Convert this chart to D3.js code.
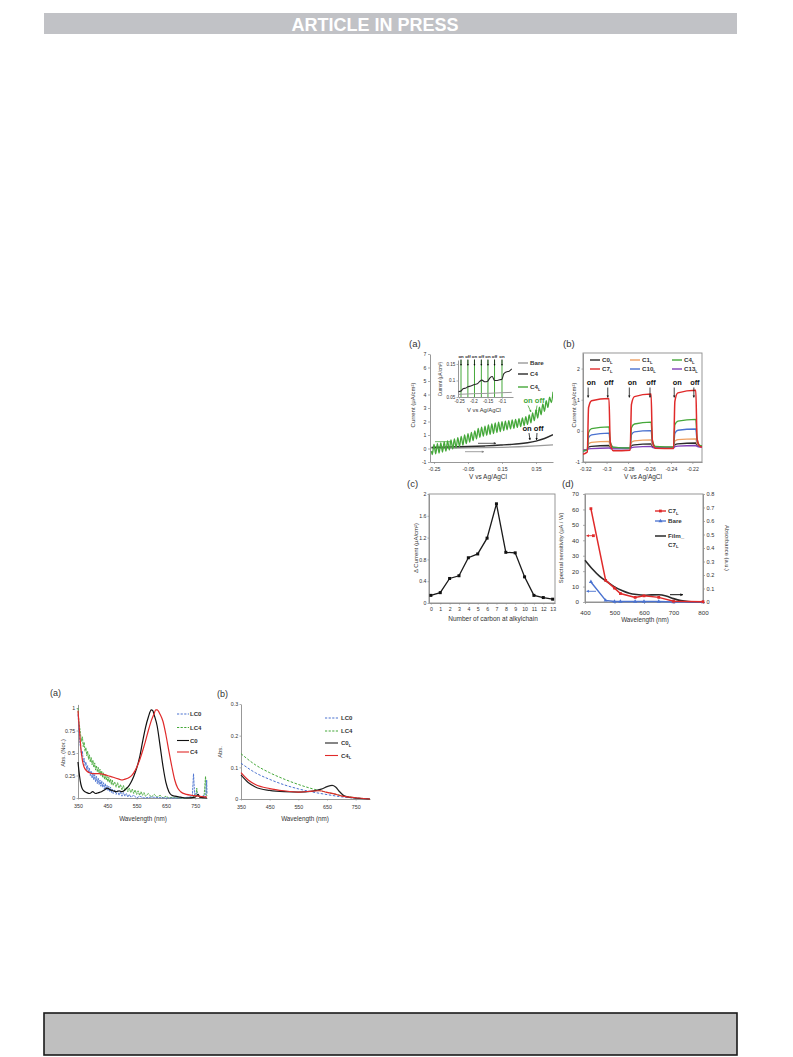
<!DOCTYPE html>
<html><head><meta charset="utf-8">
<script src="https://cdn.jsdelivr.net/npm/d3@7"></script>
<style>
body{margin:0;background:#fff;}
svg{display:block;}
</style></head><body>
<svg id="page" width="793" height="1057"></svg>
<script>
// ---------------- DATA ----------------
// Fig. top-right (a): photocurrent vs potential
const aGreenC4L = [[-0.265,-0.2],[-0.26,-0.45],[-0.25,0.3],[-0.24,-0.4],[-0.23,0.36],[-0.22,-0.34],[-0.21,0.42],[-0.2,-0.27],[-0.19,0.49],[-0.18,-0.2],[-0.17,0.56],[-0.16,-0.12],[-0.15,0.64],[-0.14,-0.04],[-0.13,0.72],[-0.12,0.05],[-0.11,0.8],[-0.1,0.14],[-0.09,0.9],[-0.08,0.25],[-0.07,1.0],[-0.06,0.36],[-0.05,1.1],[-0.04,0.47],[-0.03,1.2],[-0.02,0.58],[-0.01,1.3],[0.0,0.72],[0.01,1.48],[0.02,0.82],[0.03,1.58],[0.04,0.9],[0.05,1.66],[0.06,0.98],[0.07,1.74],[0.08,1.04],[0.09,1.82],[0.1,1.1],[0.11,1.9],[0.12,1.18],[0.13,1.95],[0.14,1.26],[0.15,1.99],[0.16,1.33],[0.17,2.03],[0.18,1.39],[0.19,2.07],[0.2,1.45],[0.21,2.11],[0.22,1.5],[0.23,2.16],[0.24,1.56],[0.25,2.21],[0.26,1.62],[0.27,2.27],[0.28,1.69],[0.29,2.36],[0.3,1.78],[0.31,2.48],[0.32,1.9],[0.33,2.64],[0.34,2.06],[0.35,2.84],[0.36,2.26],[0.37,3.06],[0.38,2.5],[0.39,3.3],[0.4,2.76],[0.41,3.54],[0.42,3.04],[0.43,3.8],[0.44,3.4],[0.45,4.2]];
const aBlackC4 = [[-0.265,0.08],[-0.2,0.1],[-0.15,0.12],[-0.1,0.13],[-0.05,0.15],[0,0.17],[0.05,0.19],[0.1,0.22],[0.15,0.26],[0.2,0.3],[0.25,0.35],[0.3,0.43],[0.35,0.55],[0.4,0.74],[0.45,1.02]];
const aGrayBare = [[-0.265,0.02],[-0.15,0.03],[-0.05,0.04],[0.05,0.06],[0.15,0.09],[0.25,0.13],[0.35,0.19],[0.45,0.27]];
const aXTicks = [-0.25,-0.05,0.15,0.35];
const aYTicks = [-1,0,1,2,3,4,5,6,7];
const aLegend = [["Bare",""],["C4",""],["C4","L"]];
const insetC4 = [[-0.252,0.066],[-0.243,0.068],[-0.236,0.075],[-0.226,0.077],[-0.219,0.081],[-0.209,0.083],[-0.196,0.088],[-0.186,0.09],[-0.178,0.097],[-0.17,0.101],[-0.16,0.096],[-0.15,0.098],[-0.142,0.108],[-0.134,0.112],[-0.126,0.1],[-0.116,0.1],[-0.108,0.102],[-0.1,0.104],[-0.094,0.12],[-0.085,0.126],[-0.075,0.128],[-0.066,0.135]];
const insetBare = [[-0.252,0.058],[-0.2,0.06],[-0.15,0.061],[-0.1,0.063],[-0.066,0.064]];
const insetSwitchV = [-0.243,-0.219,-0.196,-0.172,-0.149,-0.126,-0.1];
const insetSwitchLabels = ["on","off","on","off","on","off","on"];
const insetXTicks = [-0.25,-0.2,-0.15,-0.1];
const insetYTicks = [0.05,0.1,0.15];

// Fig. top-right (b): chopped photocurrent
const bTimes = [-0.322,-0.318,-0.3168,-0.314,-0.2978,-0.2966,-0.2938,-0.278,-0.2768,-0.274,-0.2585,-0.2573,-0.2545,-0.2375,-0.2363,-0.2335,-0.2168,-0.2156,-0.213,-0.211];
const bC0  = [-0.62,-0.6,-0.52,-0.5,-0.47,-0.53,-0.55,-0.55,-0.48,-0.45,-0.42,-0.5,-0.53,-0.52,-0.45,-0.42,-0.39,-0.47,-0.5,-0.5];
const bC1  = [-0.62,-0.6,-0.42,-0.37,-0.34,-0.5,-0.55,-0.55,-0.37,-0.32,-0.29,-0.46,-0.53,-0.52,-0.33,-0.28,-0.26,-0.42,-0.5,-0.5];
const bC4  = [-0.65,-0.6,-0.05,0.07,0.13,-0.35,-0.52,-0.55,0.1,0.22,0.28,-0.3,-0.5,-0.52,0.2,0.31,0.37,-0.25,-0.47,-0.48];
const bC7  = [-0.75,-0.68,0.75,0.97,1.04,-0.35,-0.64,-0.62,0.85,1.1,1.18,-0.3,-0.56,-0.57,0.95,1.22,1.3,-0.25,-0.5,-0.52];
const bC10 = [-0.65,-0.62,-0.22,-0.13,-0.07,-0.4,-0.53,-0.55,-0.12,-0.03,0.01,-0.38,-0.52,-0.53,-0.08,0.02,0.06,-0.33,-0.5,-0.5];
const bC13 = [-0.62,-0.6,-0.58,-0.57,-0.55,-0.57,-0.58,-0.58,-0.54,-0.52,-0.5,-0.53,-0.55,-0.55,-0.51,-0.49,-0.47,-0.5,-0.52,-0.52];
const bNames = ["C0","C1","C4","C7","C10","C13"];
const bXTicks = [-0.32,-0.3,-0.28,-0.26,-0.24,-0.22];
const bYTicks = [-1,0,1,2];
const bSwitchV = [-0.3172,-0.2989,-0.2788,-0.2595,-0.2369,-0.2186];
const bSwitchLabels = ["on","off","on","off","on","off"];

// Fig. top-right (c): delta current vs carbon number
const cCarbon = [0,1,2,3,4,5,6,7,8,9,10,11,12,13];
const cDelta = [0.14,0.19,0.45,0.5,0.83,0.9,1.19,1.82,0.93,0.92,0.48,0.14,0.1,0.07];
const cYTicks = [0,0.4,0.8,1.2,1.6,2];

// Fig. top-right (d): spectral sensitivity
const dWave = [420,470,500,520,570,600,650,700,800];
const dC7L = [60.5,14,9,5.5,3,4,3,0.5,0.2];
const dBare = [13,1,0.3,0.3,0.3,0.3,0.3,0,0];
const dFilmWave = [400,425,450,475,500,525,550,575,600,625,650,675,700,725,750,800];
const dFilmAbs = [0.31,0.245,0.19,0.15,0.112,0.085,0.065,0.055,0.05,0.053,0.054,0.045,0.025,0.01,0.003,0];
const dXTicks = [400,500,600,700,800];
const dYLTicks = [0,10,20,30,40,50,60,70];
const dYRTicks = [0,0.1,0.2,0.3,0.4,0.5,0.6,0.7,0.8];

// Fig. bottom (a): normalised absorbance in solution
const pLC0 = [[350,0.93],[353,0.78],[356,0.62],[359,0.55],[362,0.47],[365,0.52],[368,0.4],[371,0.44],[374,0.36],[377,0.4],[380,0.31],[383,0.36],[386,0.28],[389,0.33],[392,0.25],[395,0.3],[398,0.22],[401,0.28],[404,0.2],[407,0.26],[410,0.18],[413,0.24],[416,0.16],[419,0.22],[422,0.15],[425,0.2],[428,0.13],[431,0.19],[434,0.12],[437,0.17],[440,0.1],[443,0.16],[446,0.09],[449,0.14],[452,0.08],[455,0.13],[458,0.07],[461,0.12],[464,0.06],[467,0.1],[470,0.05],[475,0.09],[480,0.04],[485,0.08],[490,0.03],[495,0.07],[500,0.02],[505,0.06],[510,0.02],[515,0.05],[520,0.01],[525,0.04],[530,0.01],[540,0.03],[550,0],[560,0.02],[575,0],[600,0.01],[650,0],[700,0],[730,0.01],[740,0.02],[744,0.27],[748,0.03],[755,0.06],[760,0.02],[770,0.01],[780,0.03],[785,0.01],[789,0.2],[790,0.05]];
const pLC4 = [[350,1.0],[353,0.85],[356,0.78],[359,0.7],[362,0.63],[365,0.68],[368,0.57],[371,0.62],[374,0.52],[377,0.56],[380,0.47],[383,0.52],[386,0.43],[389,0.48],[392,0.4],[395,0.45],[398,0.37],[401,0.42],[404,0.34],[407,0.39],[410,0.31],[413,0.36],[416,0.29],[419,0.34],[422,0.27],[425,0.32],[428,0.25],[431,0.3],[434,0.23],[437,0.28],[440,0.21],[443,0.26],[446,0.2],[449,0.24],[452,0.18],[455,0.23],[458,0.17],[461,0.21],[464,0.15],[467,0.2],[470,0.14],[475,0.18],[480,0.12],[485,0.17],[490,0.11],[495,0.15],[500,0.09],[505,0.14],[510,0.08],[515,0.12],[520,0.07],[525,0.11],[530,0.06],[535,0.1],[540,0.05],[545,0.09],[550,0.04],[555,0.08],[560,0.03],[565,0.07],[570,0.03],[575,0.06],[580,0.02],[590,0.05],[600,0.01],[610,0.04],[620,0.01],[630,0.03],[640,0],[650,0.02],[660,0],[675,0.01],[690,0],[720,0],[740,0.01],[752,0.03],[755,0.11],[758,0.02],[770,0.01],[780,0.02],[785,0.24],[788,0.04],[790,0.02]];
const pC0 = [[350,0.4],[355,0.25],[360,0.15],[365,0.1],[370,0.08],[380,0.06],[390,0.05],[400,0.07],[410,0.05],[420,0.06],[430,0.07],[440,0.09],[450,0.11],[460,0.09],[470,0.08],[480,0.07],[490,0.08],[500,0.07],[510,0.09],[520,0.12],[530,0.17],[540,0.24],[550,0.33],[560,0.45],[570,0.62],[580,0.78],[590,0.9],[600,0.98],[605,0.97],[610,0.92],[620,0.8],[630,0.58],[640,0.35],[650,0.17],[660,0.07],[670,0.03],[680,0.02],[700,0.01],[720,0],[750,0.01],[760,0.04],[765,0.01],[790,0]];
const pC4 = [[350,0.97],[355,0.75],[360,0.55],[365,0.42],[370,0.35],[380,0.3],[390,0.28],[400,0.27],[420,0.27],[440,0.26],[450,0.25],[460,0.24],[470,0.23],[480,0.22],[490,0.21],[500,0.2],[510,0.21],[520,0.22],[530,0.24],[540,0.28],[550,0.34],[560,0.42],[570,0.52],[580,0.63],[590,0.75],[600,0.86],[610,0.94],[615,0.98],[620,0.98],[630,0.93],[640,0.85],[650,0.7],[660,0.52],[670,0.35],[680,0.2],[690,0.11],[700,0.07],[720,0.04],[740,0.03],[760,0.02],[790,0.01]];
const pXTicks = [350,450,550,650,750];
const pYTicks = [0,0.25,0.5,0.75,1];

// Fig. bottom (b): absorbance of films
const qLC0 = [[350,0.113],[400,0.083],[450,0.062],[500,0.045],[550,0.032],[600,0.022],[650,0.014],[700,0.007],[750,0.003],[800,0]];
const qLC4 = [[350,0.143],[400,0.108],[450,0.083],[500,0.063],[550,0.046],[600,0.032],[650,0.021],[700,0.011],[750,0.004],[800,0]];
const qC0L = [[350,0.076],[375,0.052],[400,0.038],[450,0.027],[500,0.023],[550,0.022],[600,0.025],[630,0.031],[650,0.039],[668,0.043],[680,0.038],[695,0.022],[710,0.01],[740,0.004],[800,0]];
const qC4L = [[350,0.083],[375,0.06],[400,0.046],[450,0.033],[500,0.026],[550,0.022],[600,0.025],[625,0.026],[650,0.021],[675,0.016],[700,0.01],[750,0.004],[800,0]];
const qXTicks = [350,450,550,650,750];
const qYTicks = [0,0.1,0.2,0.3];

// ---------------- DRAWING ----------------
const FONT = "'Liberation Sans', Arial, Helvetica, sans-serif";
const svg = d3.select("#page").attr("font-family", FONT);
const COL = {green:"#45a83a", red:"#e02a2a", blue:"#4a72d0", orange:"#eea062", purple:"#8240b8", black:"#2a2a2a", gray:"#9a9a9a", axis:"#8c8c8c", text:"#333"};
const S = v => String(v);

function txt(g, x, y, s, o = {}) {
  const t = g.append("text").attr("x", x).attr("y", y).attr("font-size", o.fs || 6)
    .attr("fill", o.fill || COL.text).attr("text-anchor", o.anchor || "start")
    .attr("font-weight", o.bold ? "bold" : "normal");
  if (o.rot) t.attr("transform", `rotate(${o.rot},${x},${y})`);
  t.append("tspan").text(s);
  if (o.sub) t.append("tspan").attr("font-size", (o.fs || 6) * 0.68).attr("dy", (o.fs || 6) * 0.3).text(o.sub);
  return t;
}
function styleAxis(a, fs) {
  a.selectAll("path.domain").attr("stroke", COL.axis).attr("stroke-width", 0.9);
  a.selectAll(".tick line").attr("stroke", COL.axis).attr("stroke-width", 0.7);
  a.selectAll(".tick text").attr("font-size", fs).attr("fill", COL.text).attr("font-family", FONT);
}
function axisB(g, sc, y, ticks, fs, pad, ts = 2) {
  const a = g.append("g").attr("transform", `translate(0,${y})`)
    .call(d3.axisBottom(sc).tickValues(ticks).tickFormat(S).tickSize(ts).tickSizeOuter(0).tickPadding(pad));
  styleAxis(a, fs); return a;
}
function axisL(g, sc, x, ticks, fs, pad, ts = 2) {
  const a = g.append("g").attr("transform", `translate(${x},0)`)
    .call(d3.axisLeft(sc).tickValues(ticks).tickFormat(S).tickSize(ts).tickSizeOuter(0).tickPadding(pad));
  styleAxis(a, fs); return a;
}
function axisR(g, sc, x, ticks, fs, pad, ts = 2) {
  const a = g.append("g").attr("transform", `translate(${x},0)`)
    .call(d3.axisRight(sc).tickValues(ticks).tickFormat(S).tickSize(ts).tickSizeOuter(0).tickPadding(pad));
  styleAxis(a, fs); return a;
}
function frame(g, x0, y0, x1, y1) {
  g.append("rect").attr("x", x0).attr("y", y0).attr("width", x1 - x0).attr("height", y1 - y0)
    .attr("fill", "none").attr("stroke", COL.axis).attr("stroke-width", 0.9);
}
function arrow(g, x1, y1, x2, y2, color, w = 0.9, hs = 2.2) {
  g.append("line").attr("x1", x1).attr("y1", y1).attr("x2", x2).attr("y2", y2)
    .attr("stroke", color).attr("stroke-width", w);
  const ang = Math.atan2(y2 - y1, x2 - x1);
  const p = [[x2, y2],
    [x2 - hs * Math.cos(ang) + hs * 0.6 * Math.sin(ang), y2 - hs * Math.sin(ang) - hs * 0.6 * Math.cos(ang)],
    [x2 - hs * Math.cos(ang) - hs * 0.6 * Math.sin(ang), y2 - hs * Math.sin(ang) + hs * 0.6 * Math.cos(ang)]];
  g.append("path").attr("d", "M" + p.map(q => q.join(",")).join("L") + "Z").attr("fill", color);
}
function clip(id, x0, y0, x1, y1) {
  svg.append("clipPath").attr("id", id).append("rect").attr("x", x0).attr("y", y0).attr("width", x1 - x0).attr("height", y1 - y0);
}

// header & footer
svg.append("rect").attr("x", 44).attr("y", 13).attr("width", 693).attr("height", 21).attr("fill", "#c1c2c6");
svg.append("text").attr("x", 375).attr("y", 30.5).attr("text-anchor", "middle").attr("font-size", 18)
  .attr("font-weight", "bold").attr("fill", "#fff").text("ARTICLE IN PRESS");
svg.append("rect").attr("x", 44).attr("y", 1013).attr("width", 693).attr("height", 42)
  .attr("fill", "#bfbfbf").attr("stroke", "#1a1a1a").attr("stroke-width", 1.6);

// ---------- Panel (a) top ----------
{
  const g = svg.append("g");
  const x = d3.scaleLinear().domain([-0.2735, 0.45]).range([430, 553]);
  const y = d3.scaleLinear().domain([-1, 7]).range([462, 354]);
  txt(g, 409, 347, "(a)", {fs: 9.5});
  axisL(g, y, 430, aYTicks, 5.2, 1.5, 2);
  axisB(g, x, 462, aXTicks, 5.2, 3.5, 2);
  txt(g, 488, 479, "V vs Ag/AgCl", {fs: 6.5, anchor: "middle"});
  txt(g, 415, 405, "Current (μA/cm²)", {fs: 6, anchor: "middle", rot: -90});
  clip("clipA", 430, 350, 553, 462);
  const line = d3.line().x(d => x(d[0])).y(d => y(d[1]));
  const pg = g.append("g").attr("clip-path", "url(#clipA)");
  pg.append("path").attr("d", line.curve(d3.curveMonotoneX)(aGrayBare)).attr("fill", "none").attr("stroke", COL.gray).attr("stroke-width", 1.3);
  pg.append("path").attr("d", line.curve(d3.curveMonotoneX)(aBlackC4)).attr("fill", "none").attr("stroke", COL.black).attr("stroke-width", 1.4);
  pg.append("path").attr("d", line.curve(d3.curveCatmullRom)(aGreenC4L)).attr("fill", "none").attr("stroke", COL.green).attr("stroke-width", 1.3);
  // legend
  const lc = [COL.gray, COL.black, COL.green];
  [363, 374, 387].forEach((ly, i) => {
    g.append("line").attr("x1", 518).attr("x2", 528).attr("y1", ly).attr("y2", ly).attr("stroke", lc[i]).attr("stroke-width", 1.4);
    txt(g, 530, ly + 2, aLegend[i][0], {fs: 6.2, bold: true, sub: aLegend[i][1]});
  });
  // annotations
  txt(g, 534, 403, "on off", {fs: 7.6, bold: true, fill: COL.green, anchor: "middle"});
  arrow(g, 528, 405.5, 531, 412, COL.green, 0.8, 2);
  arrow(g, 537, 405.5, 536, 412, COL.green, 0.8, 2);
  txt(g, 533, 430.5, "on off", {fs: 7.6, bold: true, fill: "#111", anchor: "middle"});
  arrow(g, 529, 433, 530, 440, "#111", 0.8, 2);
  arrow(g, 537, 433, 536.5, 440, "#111", 0.8, 2);
  arrow(g, 478, 443.3, 496, 443.3, "#333", 0.8, 2.2);
  arrow(g, 465, 451.7, 484, 451.7, "#888", 0.8, 2.2);
  arrow(g, 435, 441.7, 452, 441.7, COL.green, 0.8, 2.2);

  // inset
  const ix = d3.scaleLinear().domain([-0.2535, -0.0616]).range([458, 513]);
  const iy = d3.scaleLinear().domain([0.05, 0.162]).range([397, 360]);
  const ig = g.append("g");
  insetSwitchV.forEach((v, i) => {
    ig.append("line").attr("x1", ix(v)).attr("x2", ix(v)).attr("y1", 360).attr("y2", 397).attr("stroke", COL.green).attr("stroke-width", 1.0);
    txt(ig, ix(v), 358.3, insetSwitchLabels[i], {fs: 4.3, bold: true, anchor: "middle", fill: "#222"});
    arrow(ig, ix(v), 359.3, ix(v), 365.5, "#111", 0.7, 1.6);
  });
  axisL(ig, iy, 458, insetYTicks, 4.5, 1.2, 1.5);
  axisB(ig, ix, 397, insetXTicks, 4.5, 1, 1.5);
  txt(ig, 484, 412, "V vs Ag/AgCl", {fs: 5.8, anchor: "middle"});
  txt(ig, 441.5, 379, "Current (μA/cm²)", {fs: 4.6, anchor: "middle", rot: -90});
  const il = d3.line().x(d => ix(d[0])).y(d => iy(d[1])).curve(d3.curveMonotoneX);
  ig.append("path").attr("d", il(insetBare)).attr("fill", "none").attr("stroke", COL.gray).attr("stroke-width", 1.0);
  ig.append("path").attr("d", il(insetC4)).attr("fill", "none").attr("stroke", COL.black).attr("stroke-width", 1.1);
}

// ---------- Panel (b) top ----------
{
  const g = svg.append("g");
  const x = d3.scaleLinear().domain([-0.322, -0.211]).range([583, 702]);
  const y = d3.scaleLinear().domain([-1, 2.5]).range([462, 353]);
  txt(g, 563, 347, "(b)", {fs: 9.5});
  frame(g, 583, 353, 702, 462);
  axisL(g, y, 583, bYTicks, 5.2, 1.5, 1.5);
  axisB(g, x, 462, bXTicks, 5.2, 3.5, 2);
  txt(g, 643, 479, "V vs Ag/AgCl", {fs: 6.5, anchor: "middle"});
  txt(g, 576, 405, "Current (μA/cm²)", {fs: 6, anchor: "middle", rot: -90});
  clip("clipB", 583, 353, 702, 462);
  const series = [bC0, bC1, bC13, bC10, bC4, bC7];
  const colors = [COL.black, COL.orange, COL.purple, COL.blue, COL.green, COL.red];
  const line = d3.line().x((d, i) => x(bTimes[i])).y(d => y(d)).curve(d3.curveMonotoneX);
  const pg = g.append("g").attr("clip-path", "url(#clipB)");
  series.forEach((s, i) => pg.append("path").attr("d", line(s)).attr("fill", "none").attr("stroke", colors[i]).attr("stroke-width", i === 5 ? 1.5 : 1.3));
  // legend
  const legCols = [COL.black, COL.orange, COL.green, COL.red, COL.blue, COL.purple];
  const lx = [590, 630, 672];
  bNames.forEach((n, i) => {
    const r = Math.floor(i / 3), c = i % 3, ly = 360 + r * 9;
    g.append("line").attr("x1", lx[c]).attr("x2", lx[c] + 10).attr("y1", ly).attr("y2", ly).attr("stroke", legCols[i]).attr("stroke-width", 1.4);
    txt(g, lx[c] + 12, ly + 2, n, {fs: 6.2, bold: true, sub: "L"});
  });
  bSwitchV.forEach((v, i) => {
    txt(g, x(v) + (i % 2 ? 1 : 3), 384.5, bSwitchLabels[i], {fs: 7.4, bold: true, anchor: "middle", fill: "#111"});
    arrow(g, x(v), 387.5, x(v), 397.5, "#111", 0.8, 2);
  });
}

// ---------- Panel (c) top ----------
{
  const g = svg.append("g");
  const x = d3.scaleLinear().domain([-0.2, 13.25]).range([429, 555]);
  const y = d3.scaleLinear().domain([0, 2]).range([603, 494]);
  txt(g, 407, 487, "(c)", {fs: 9.5});
  frame(g, 429, 494, 555, 603);
  axisL(g, y, 429, cYTicks, 5.2, 1, 1.5);
  axisB(g, x, 603, cCarbon, 5.2, 2.5, 1.5);
  txt(g, 493, 621, "Number of carbon at alkylchain", {fs: 6.5, anchor: "middle"});
  txt(g, 418, 548, "Δ Current (μA/cm²)", {fs: 6, anchor: "middle", rot: -90});
  const line = d3.line().x((d, i) => x(cCarbon[i])).y(d => y(d));
  g.append("path").attr("d", line(cDelta)).attr("fill", "none").attr("stroke", "#1a1a1a").attr("stroke-width", 1.3);
  g.selectAll(null).data(cDelta).enter().append("rect")
    .attr("x", (d, i) => x(cCarbon[i]) - 1.5).attr("y", d => y(d) - 1.5).attr("width", 3).attr("height", 3).attr("fill", "#111");
}

// ---------- Panel (d) top ----------
{
  const g = svg.append("g");
  const x = d3.scaleLinear().domain([400, 800]).range([585, 703]);
  const yl = d3.scaleLinear().domain([0, 70]).range([602, 494]);
  const yr = d3.scaleLinear().domain([0, 0.8]).range([602, 494]);
  txt(g, 562, 487, "(d)", {fs: 9.5});
  frame(g, 585, 494, 703, 602);
  axisL(g, yl, 585, dYLTicks, 6.2, 4, 2);
  axisR(g, yr, 703, dYRTicks, 5.6, 1.5, 2);
  axisB(g, x, 602, dXTicks, 6.2, 7, 2);
  txt(g, 645, 622, "Wavelength (nm)", {fs: 6.3, anchor: "middle"});
  txt(g, 563, 548, "Spectral sensitivity (μA / W)", {fs: 5.8, anchor: "middle", rot: -90});
  txt(g, 725, 548, "Absorbance (a.u.)", {fs: 5.8, anchor: "middle", rot: 90});
  const lineL = d3.line().x((d, i) => x(dWave[i])).y(d => yl(d));
  const lineF = d3.line().x((d, i) => x(dFilmWave[i])).y(d => yr(d)).curve(d3.curveMonotoneX);
  g.append("path").attr("d", lineF(dFilmAbs)).attr("fill", "none").attr("stroke", COL.black).attr("stroke-width", 1.6);
  g.append("path").attr("d", lineL(dBare)).attr("fill", "none").attr("stroke", COL.blue).attr("stroke-width", 1.4);
  g.append("path").attr("d", lineL(dC7L)).attr("fill", "none").attr("stroke", COL.red).attr("stroke-width", 1.5);
  const tri = d3.symbol().type(d3.symbolTriangle).size(7);
  g.selectAll(null).data(dBare).enter().append("path").attr("d", tri)
    .attr("transform", (d, i) => `translate(${x(dWave[i])},${yl(d)})`).attr("fill", COL.blue);
  g.selectAll(null).data(dC7L).enter().append("rect")
    .attr("x", (d, i) => x(dWave[i]) - 1.4).attr("y", d => yl(d) - 1.4).attr("width", 2.8).attr("height", 2.8).attr("fill", COL.red);
  // legend
  g.append("line").attr("x1", 655).attr("x2", 666).attr("y1", 511).attr("y2", 511).attr("stroke", COL.red).attr("stroke-width", 1.4);
  g.append("rect").attr("x", 659).attr("y", 509.6).attr("width", 2.8).attr("height", 2.8).attr("fill", COL.red);
  txt(g, 668, 513, "C7", {fs: 6.2, bold: true, sub: "L"});
  g.append("line").attr("x1", 655).attr("x2", 666).attr("y1", 521).attr("y2", 521).attr("stroke", COL.blue).attr("stroke-width", 1.3);
  g.append("path").attr("d", tri).attr("transform", "translate(660.5,521)").attr("fill", COL.blue);
  txt(g, 668, 523, "Bare", {fs: 6.2, bold: true});
  g.append("line").attr("x1", 655).attr("x2", 666).attr("y1", 536).attr("y2", 536).attr("stroke", COL.black).attr("stroke-width", 1.5);
  txt(g, 668, 538, "Film_", {fs: 6.2, bold: true});
  txt(g, 668, 546.5, "C7", {fs: 6.2, bold: true, sub: "L"});
  // arrows
  arrow(g, 594, 535.7, 586.5, 535.7, COL.red, 0.9, 2.4);
  g.append("rect").attr("x", 592).attr("y", 534.3).attr("width", 2.8).attr("height", 2.8).attr("fill", COL.red);
  arrow(g, 596, 591.3, 586.5, 591.3, COL.blue, 0.9, 2.4);
  arrow(g, 670, 594.7, 683, 594.7, "#111", 1.0, 2.6);
}

// ---------- Bottom (a) ----------
{
  const g = svg.append("g");
  const x = d3.scaleLinear().domain([350, 790]).range([78, 207]);
  const y = d3.scaleLinear().domain([0, 1.04]).range([798, 704.4]);
  txt(g, 50, 695.5, "(a)", {fs: 9});
  axisL(g, y, 78, pYTicks, 5.3, 1.3, 1.5);
  axisB(g, x, 798, pXTicks, 5.3, 4.3, 1.5);
  txt(g, 143, 821, "Wavelength (nm)", {fs: 6.3, anchor: "middle"});
  txt(g, 64.5, 753, "Abs. (Nor.)", {fs: 5.8, anchor: "middle", rot: -90});
  const line = d3.line().x(d => x(d[0])).y(d => y(d[1]));
  g.append("path").attr("d", line(pLC4)).attr("fill", "none").attr("stroke", COL.green).attr("stroke-width", 0.9).attr("stroke-dasharray", "2.5,0.8");
  g.append("path").attr("d", line(pLC0)).attr("fill", "none").attr("stroke", COL.blue).attr("stroke-width", 0.9).attr("stroke-dasharray", "2.5,0.8");
  const sm = d3.line().x(d => x(d[0])).y(d => y(d[1])).curve(d3.curveMonotoneX);
  g.append("path").attr("d", sm(pC0)).attr("fill", "none").attr("stroke", "#111").attr("stroke-width", 1.2);
  g.append("path").attr("d", sm(pC4)).attr("fill", "none").attr("stroke", COL.red).attr("stroke-width", 1.2);
  const items = [["LC0", COL.blue, true], ["LC4", COL.green, true], ["C0", "#111", false], ["C4", COL.red, false]];
  [714, 727.5, 740.5, 752].forEach((ly, i) => {
    const l = g.append("line").attr("x1", 177).attr("x2", 189).attr("y1", ly).attr("y2", ly).attr("stroke", items[i][1]).attr("stroke-width", 1.1);
    if (items[i][2]) l.attr("stroke-dasharray", "2.2,1.4");
    txt(g, 190, ly + 2, items[i][0], {fs: 6, bold: true});
  });
}

// ---------- Bottom (b) ----------
{
  const g = svg.append("g");
  const x = d3.scaleLinear().domain([350, 800]).range([241, 370]);
  const y = d3.scaleLinear().domain([0, 0.3]).range([799, 704]);
  txt(g, 217, 697, "(b)", {fs: 9});
  axisL(g, y, 241, qYTicks, 5.3, 1.3, 1.5);
  axisB(g, x, 799, qXTicks, 5.3, 4.3, 1.5);
  txt(g, 305, 821, "Wavelength (nm)", {fs: 6.3, anchor: "middle"});
  txt(g, 221.5, 752, "Abs.", {fs: 5.8, anchor: "middle", rot: -90});
  const sm = d3.line().x(d => x(d[0])).y(d => y(d[1])).curve(d3.curveMonotoneX);
  g.append("path").attr("d", sm(qLC4)).attr("fill", "none").attr("stroke", COL.green).attr("stroke-width", 1).attr("stroke-dasharray", "2.5,1.6");
  g.append("path").attr("d", sm(qLC0)).attr("fill", "none").attr("stroke", COL.blue).attr("stroke-width", 1).attr("stroke-dasharray", "2.5,1.6");
  g.append("path").attr("d", sm(qC0L)).attr("fill", "none").attr("stroke", "#222").attr("stroke-width", 1.2);
  g.append("path").attr("d", sm(qC4L)).attr("fill", "none").attr("stroke", COL.red).attr("stroke-width", 1.2);
  const items = [["LC0", "", COL.blue, true], ["LC4", "", COL.green, true], ["C0", "L", "#222", false], ["C4", "L", COL.red, false]];
  [718, 731, 743, 755.5].forEach((ly, i) => {
    const l = g.append("line").attr("x1", 325).attr("x2", 338).attr("y1", ly).attr("y2", ly).attr("stroke", items[i][2]).attr("stroke-width", 1.1);
    if (items[i][3]) l.attr("stroke-dasharray", "2.2,1.4");
    txt(g, 341, ly + 2, items[i][0], {fs: 6, bold: true, sub: items[i][1]});
  });
}
</script>
</body></html>
